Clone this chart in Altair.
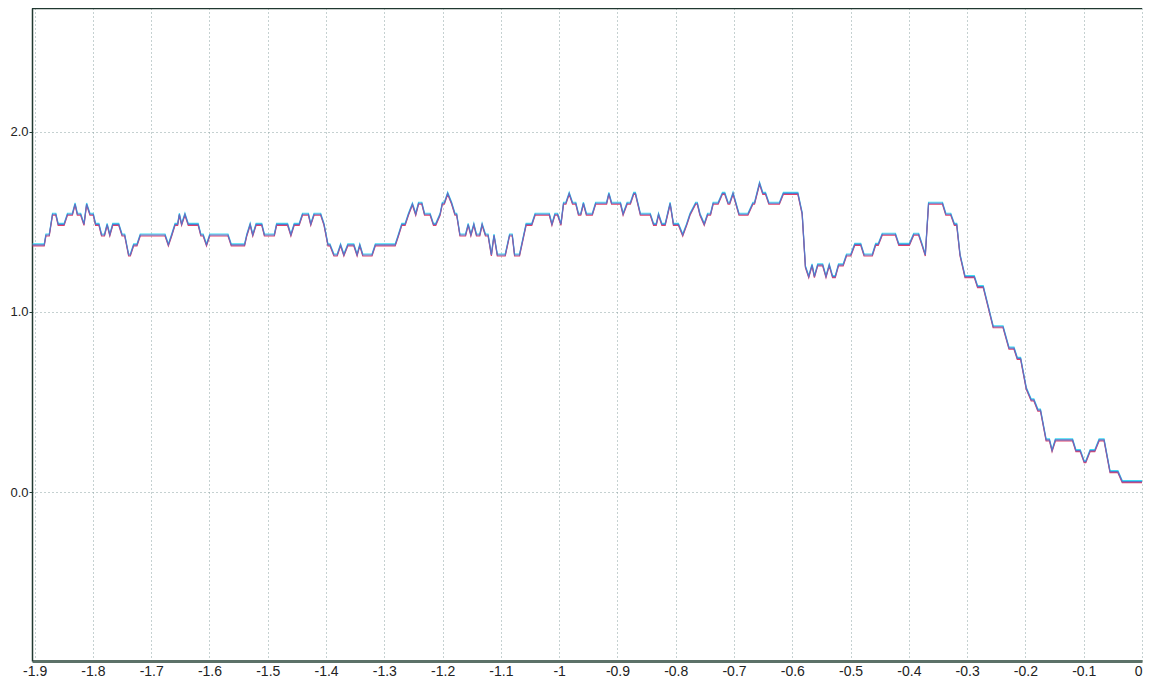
import altair as alt
import pandas as pd

# trace of the signal (x in data units, y in data units)
xs = [
    -1.9034, -1.8835, -1.8806, -1.8749, -1.8693, -1.8636, -1.8596, -1.8494, -1.8437, -1.8352,
    -1.8306, -1.8267, -1.8210, -1.8153, -1.8108, -1.8051, -1.7994, -1.7954, -1.7897, -1.7852,
    -1.7801, -1.7756, -1.7710, -1.7659, -1.7557, -1.7500, -1.7455, -1.7387, -1.7358, -1.7301,
    -1.7244, -1.7188, -1.6762, -1.6705, -1.6648, -1.6591, -1.6546, -1.6517, -1.6478, -1.6421,
    -1.6364, -1.6194, -1.6148, -1.6108, -1.6051, -1.5995, -1.5682, -1.5626, -1.5398, -1.5359,
    -1.5302, -1.5257, -1.5200, -1.5103, -1.5058, -1.4887, -1.4848, -1.4660, -1.4603, -1.4546,
    -1.4461, -1.4404, -1.4302, -1.4262, -1.4206, -1.4092, -1.4035, -1.3967, -1.3933, -1.3865,
    -1.3808, -1.3751, -1.3694, -1.3626, -1.3524, -1.3467, -1.3421, -1.3370, -1.3211, -1.3154,
    -1.2813, -1.2757, -1.2700, -1.2643, -1.2586, -1.2518, -1.2461, -1.2413, -1.2356, -1.2310,
    -1.2214, -1.2157, -1.2117, -1.2043, -1.2004, -1.1970, -1.1913, -1.1845, -1.1788, -1.1759,
    -1.1703, -1.1606, -1.1561, -1.1515, -1.1464, -1.1419, -1.1362, -1.1322, -1.1265, -1.1220,
    -1.1163, -1.1118, -1.1061, -1.0925, -1.0851, -1.0805, -1.0765, -1.0680, -1.0567, -1.0470,
    -1.0413, -1.0169, -1.0124, -1.0073, -1.0027, -0.9970, -0.9925, -0.9885, -0.9828, -0.9771,
    -0.9715, -0.9669, -0.9629, -0.9584, -0.9533, -0.9431, -0.9374, -0.9186, -0.9147, -0.9101,
    -0.8948, -0.8903, -0.8834, -0.8778, -0.8721, -0.8692, -0.8607, -0.8437, -0.8380, -0.8334,
    -0.8295, -0.8238, -0.8181, -0.8096, -0.8039, -0.7954, -0.7880, -0.7812, -0.7755, -0.7658,
    -0.7630, -0.7585, -0.7511, -0.7454, -0.7403, -0.7358, -0.7272, -0.7199, -0.7159, -0.7102,
    -0.7074, -0.7017, -0.6915, -0.6761, -0.6676, -0.6648, -0.6562, -0.6506, -0.6460, -0.6403,
    -0.6221, -0.6153, -0.5905, -0.5831, -0.5775, -0.5718, -0.5661, -0.5621, -0.5564, -0.5479,
    -0.5422, -0.5366, -0.5309, -0.5263, -0.5207, -0.5127, -0.5070, -0.4996, -0.4928, -0.4826,
    -0.4769, -0.4627, -0.4570, -0.4525, -0.4457, -0.4230, -0.4173, -0.3991, -0.3917, -0.3832,
    -0.3775, -0.3718, -0.3662, -0.3423, -0.3366, -0.3281, -0.3219, -0.3179, -0.3122, -0.3037,
    -0.2877, -0.2821, -0.2724, -0.2554, -0.2384, -0.2282, -0.2196, -0.2140, -0.2083, -0.1986,
    -0.1901, -0.1855, -0.1787, -0.1742, -0.1645, -0.1588, -0.1543, -0.1486, -0.1191, -0.1134,
    -0.1060, -0.0992, -0.0964, -0.0890, -0.0810, -0.0736, -0.0651, -0.0549, -0.0413, -0.0339,
    0.0,
]
ys = [
    1.372, 1.372, 1.427, 1.427, 1.542, 1.542, 1.486, 1.486, 1.542, 1.542,
    1.599, 1.542, 1.542, 1.486, 1.599, 1.542, 1.542, 1.486, 1.486, 1.427,
    1.427, 1.486, 1.427, 1.486, 1.486, 1.427, 1.427, 1.316, 1.316, 1.372,
    1.372, 1.427, 1.427, 1.372, 1.427, 1.486, 1.486, 1.542, 1.486, 1.542,
    1.486, 1.486, 1.427, 1.427, 1.372, 1.427, 1.427, 1.372, 1.372, 1.427,
    1.486, 1.427, 1.486, 1.486, 1.427, 1.427, 1.486, 1.486, 1.427, 1.486,
    1.486, 1.542, 1.542, 1.486, 1.542, 1.542, 1.486, 1.372, 1.372, 1.316,
    1.316, 1.372, 1.316, 1.372, 1.372, 1.316, 1.372, 1.316, 1.316, 1.372,
    1.372, 1.427, 1.486, 1.486, 1.542, 1.599, 1.542, 1.603, 1.603, 1.542,
    1.542, 1.486, 1.486, 1.542, 1.603, 1.603, 1.658, 1.603, 1.542, 1.542,
    1.427, 1.427, 1.486, 1.427, 1.486, 1.427, 1.427, 1.486, 1.427, 1.427,
    1.316, 1.427, 1.316, 1.316, 1.427, 1.427, 1.316, 1.316, 1.486, 1.486,
    1.542, 1.542, 1.486, 1.542, 1.542, 1.486, 1.603, 1.603, 1.658, 1.603,
    1.603, 1.542, 1.542, 1.603, 1.542, 1.542, 1.603, 1.603, 1.658, 1.603,
    1.603, 1.542, 1.603, 1.603, 1.658, 1.658, 1.542, 1.542, 1.486, 1.486,
    1.542, 1.486, 1.486, 1.603, 1.486, 1.486, 1.427, 1.486, 1.542, 1.603,
    1.603, 1.542, 1.486, 1.542, 1.542, 1.603, 1.603, 1.658, 1.658, 1.603,
    1.603, 1.658, 1.542, 1.542, 1.603, 1.603, 1.714, 1.658, 1.658, 1.603,
    1.603, 1.658, 1.658, 1.547, 1.251, 1.196, 1.261, 1.196, 1.261, 1.261,
    1.196, 1.261, 1.196, 1.196, 1.261, 1.261, 1.316, 1.316, 1.375, 1.375,
    1.316, 1.316, 1.375, 1.375, 1.431, 1.431, 1.375, 1.375, 1.431, 1.431,
    1.375, 1.316, 1.603, 1.603, 1.542, 1.542, 1.486, 1.486, 1.316, 1.196,
    1.196, 1.140, 1.140, 0.918, 0.918, 0.799, 0.799, 0.743, 0.743, 0.577,
    0.512, 0.512, 0.456, 0.456, 0.290, 0.290, 0.231, 0.290, 0.290, 0.231,
    0.231, 0.170, 0.170, 0.231, 0.231, 0.290, 0.290, 0.114, 0.114, 0.059,
    0.059,
]

X_TICKS = [-1.9, -1.8, -1.7, -1.6, -1.5, -1.4, -1.3, -1.2, -1.1, -1.0,
           -0.9, -0.8, -0.7, -0.6, -0.5, -0.4, -0.3, -0.2, -0.1, 0.0]
Y_TICKS = [0.0, 1.0, 2.0]
X_DOMAIN = [-1.9045, 0.0]
Y_DOMAIN = [-0.936, 2.686]

W, H = 1110, 653

df = pd.DataFrame({"x": xs, "y": ys})

x_enc = alt.X(
    "x:Q",
    scale=alt.Scale(domain=X_DOMAIN, nice=False, zero=False),
    axis=alt.Axis(
        values=X_TICKS,
        labelExpr="toString(round(datum.value*10)/10)",
        title=None,
        grid=True,
        gridColor="#8aa3a3",
        gridDash=[1, 3],
        gridWidth=1,
        ticks=False,
        domainColor="#5c7168",
        domainWidth=3,
        labelFont="Liberation Sans",
        labelFontSize=14,
        labelColor="#222222",
        labelPadding=3,
        labelFlush=1,
        labelOverlap=False,
    ),
)
y_enc = alt.Y(
    "y:Q",
    scale=alt.Scale(domain=Y_DOMAIN, nice=False, zero=False),
    axis=alt.Axis(
        values=Y_TICKS,
        format=".1f",
        title=None,
        grid=True,
        gridColor="#8aa3a3",
        gridDash=[1, 3],
        gridWidth=1,
        ticks=True,
        tickSize=3,
        tickColor="#203830",
        domainColor="#203830",
        domainWidth=1.5,
        labelFont="Liberation Sans",
        labelFontSize=13,
        labelColor="#222222",
        labelPadding=1,
    ),
)

base = alt.Chart(df)
cyan = base.mark_line(color="#3cdcf2", strokeWidth=1.2, yOffset=-1, clip=True).encode(x=x_enc, y=y_enc)
red = base.mark_line(color="#e0406a", strokeWidth=1.2, yOffset=1, clip=True).encode(x=x_enc, y=y_enc)
blue = base.mark_line(color="#5a72c8", strokeWidth=1.2, clip=True).encode(x=x_enc, y=y_enc)

top_border = alt.Chart(pd.DataFrame({"t": [0]})).mark_rule(
    color="#203830", strokeWidth=1.5
).encode(y=alt.value(0.5))

chart = alt.layer(cyan, red, blue, top_border).properties(
    width=W,
    height=H,
    autosize=alt.AutoSizeParams(type="none"),
    padding={"left": 24, "top": 0, "right": 1, "bottom": 18},
    background="white",
).configure_view(stroke=None)

chart.save("out.html", embed_options={"renderer": "svg", "actions": False})
